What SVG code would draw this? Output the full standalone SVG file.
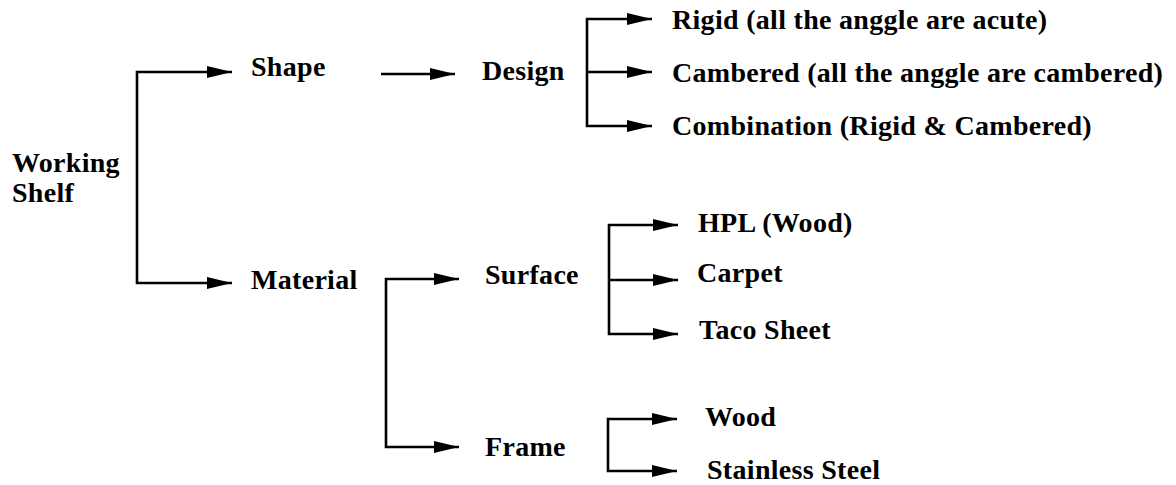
<svg xmlns="http://www.w3.org/2000/svg" width="1176" height="485" viewBox="0 0 1176 485">
  <style>
    .lbl { font-family: "Liberation Serif", "Times New Roman", serif; font-weight: bold; font-size: 28px; letter-spacing: 0.3px; fill: #000; }
    .con { fill: none; stroke: #000; stroke-width: 2.6; marker-end: url(#arrow); }
  </style>
  <defs>
    <marker id="arrow" markerUnits="userSpaceOnUse" markerWidth="26" markerHeight="14" refX="25" refY="6.5" orient="auto">
      <path d="M0,0.5 L25,6.5 L0,12.5 Z" fill="#000"/>
    </marker>
  </defs>
  <rect width="1176" height="485" fill="#fff"/>

  <!-- connectors: elbow lines ending in solid arrowheads -->
  <g id="connectors">
    <!-- Working Shelf fork -->
    <path class="con" d="M137,178 V72 H232"/>
    <path class="con" d="M137,178 V283 H232"/>
    <!-- Shape to Design -->
    <path class="con" d="M381,74 H455"/>
    <!-- Design fork -->
    <path class="con" d="M587,72 V19 H652"/>
    <path class="con" d="M587,72 H652"/>
    <path class="con" d="M587,72 V126 H652"/>
    <!-- Material fork -->
    <path class="con" d="M386,360 V279 H459"/>
    <path class="con" d="M386,360 V447 H459"/>
    <!-- Surface fork -->
    <path class="con" d="M609,280 V225 H678"/>
    <path class="con" d="M609,280 H678"/>
    <path class="con" d="M609,280 V334 H678"/>
    <!-- Frame fork -->
    <path class="con" d="M608,445 V419 H677"/>
    <path class="con" d="M608,445 V471 H677"/>
  </g>

  <!-- nodes: bold serif labels -->
  <g id="working-shelf"><text class="lbl" x="12" y="172">Working</text><text class="lbl" x="12" y="202">Shelf</text></g>
  <g id="shape"><text class="lbl" x="251" y="76">Shape</text></g>
  <g id="design"><text class="lbl" x="482" y="80">Design</text></g>
  <g id="rigid"><text class="lbl" x="672" y="29">Rigid (all the anggle are acute)</text></g>
  <g id="cambered"><text class="lbl" x="672" y="82">Cambered (all the anggle are cambered)</text></g>
  <g id="combination"><text class="lbl" x="672" y="135">Combination (Rigid &amp; Cambered)</text></g>
  <g id="material"><text class="lbl" x="251" y="289">Material</text></g>
  <g id="surface"><text class="lbl" x="485" y="284">Surface</text></g>
  <g id="hpl"><text class="lbl" x="698" y="232">HPL (Wood)</text></g>
  <g id="carpet"><text class="lbl" x="697" y="282">Carpet</text></g>
  <g id="taco-sheet"><text class="lbl" x="699" y="339">Taco Sheet</text></g>
  <g id="frame"><text class="lbl" x="485" y="456">Frame</text></g>
  <g id="wood"><text class="lbl" x="705" y="426">Wood</text></g>
  <g id="stainless-steel"><text class="lbl" x="707" y="479">Stainless Steel</text></g>
</svg>
